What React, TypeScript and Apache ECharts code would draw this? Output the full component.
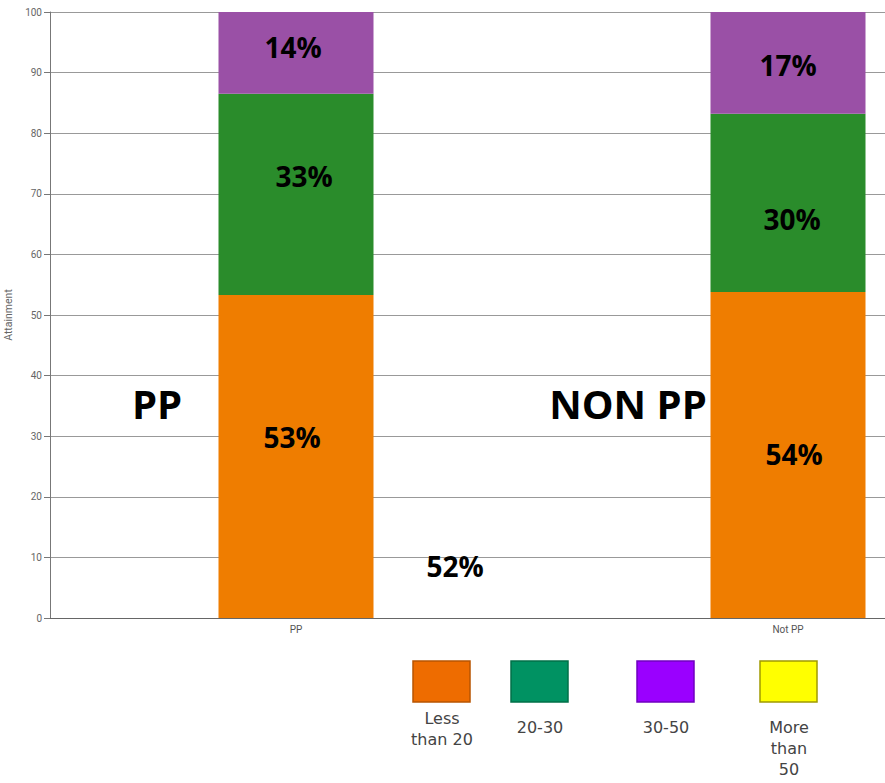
import { useEffect, useRef } from "react";
import * as echarts from "echarts";

const categories = ["PP", "Not PP"];
const seriesNames = ["Less than 20", "20-30", "30-50", "More than 50"];
const lessThan20 = [53.3, 53.8];
const from20to30 = [33.2, 29.4];
const from30to50 = [13.5, 16.8];
const moreThan50 = [0, 0];
const lessThan20Labels = ["53%", "54%"];
const from20to30Labels = ["33%", "30%"];
const from30to50Labels = ["14%", "17%"];
const annotationTexts = ["PP", "NON PP", "52%"];
const legendLabels = ["Less\nthan 20", "20-30", "30-50", "More\nthan\n50"];

// styles (not data)
const barColors = ["#EF7D00", "#2A8C2B", "#9A50A6", "#FFFF00"];
const legendColors = ["#EE6C00", "#009262", "#9A00FF", "#FFFF00"];
const legendBorders = ["#B85400", "#007048", "#7000C0", "#A09A00"];
const legendBoxX = [413, 511, 637, 760];
const legendTextTop = [708, 717, 717, 717];
const lessOffsets = [[-4, -20], [6, -1]];
const midOffsets = [[8, -18], [4, 16]];
const topOffsets = [[-3, -6], [0, 2]];
const annotationPos = [
  [157, 403, 40],
  [628, 403, 40],
  [455, 566, 28],
];

function items(values: number[], offsets: number[][]) {
  return values.map((v, i) => ({ value: v, label: { offset: offsets[i] } }));
}

export default function App() {
  const ref = useRef<HTMLDivElement>(null);
  useEffect(() => {
    if (!ref.current) return;
    const chart = echarts.init(ref.current, undefined, { renderer: "svg" });
    const labelStyle = (texts: string[]) => ({
      show: true,
      position: "inside" as const,
      formatter: (p: any) => texts[p.dataIndex],
      fontFamily: "Open Sans",
      fontWeight: "bold" as const,
      fontSize: 28,
      color: "#000",
    });
    const graphics: any[] = [];
    annotationTexts.forEach((t, i) => {
      const [x, y, fs] = annotationPos[i];
      graphics.push({
        type: "text",
        x,
        y,
        z: 100,
        style: {
          text: t,
          fontFamily: "Open Sans",
          fontWeight: "bold",
          fontSize: fs,
          fill: "#000",
          align: "center",
          verticalAlign: "middle",
        },
      });
    });
    legendLabels.forEach((t, i) => {
      graphics.push({
        type: "rect",
        shape: { x: legendBoxX[i], y: 661, width: 57, height: 41 },
        style: { fill: legendColors[i], stroke: legendBorders[i], lineWidth: 1.5 },
      });
      graphics.push({
        type: "text",
        x: legendBoxX[i] + 29,
        y: legendTextTop[i],
        style: {
          text: t,
          fontFamily: "DejaVu Sans",
          fontSize: 16,
          lineHeight: 21,
          fill: "#444",
          align: "center",
          verticalAlign: "top",
        },
      });
    });
    chart.setOption({
      animation: false,
      backgroundColor: "#fff",
      grid: { left: 50, top: 12, height: 606, width: 984, outerBoundsMode: "none", containLabel: false },
      xAxis: {
        type: "category",
        data: categories,
        axisLine: { lineStyle: { color: "#666" } },
        axisTick: { alignWithLabel: true, length: 4, lineStyle: { color: "#999" } },
        axisLabel: { fontSize: 10, color: "#555", margin: 6, fontFamily: "Roboto" },
      },
      yAxis: {
        type: "value",
        min: 0,
        max: 100,
        interval: 10,
        name: "Attainment",
        nameLocation: "middle",
        nameRotate: 90,
        nameGap: 25,
        nameTextStyle: { fontSize: 10.5, color: "#666", fontFamily: "Roboto" },
        axisLine: { show: true, lineStyle: { color: "#777" } },
        axisTick: { show: true, length: 6, lineStyle: { color: "#777" } },
        axisLabel: { fontSize: 10, color: "#666", margin: 8, fontFamily: "Roboto" },
        splitLine: { lineStyle: { color: "#999" } },
      },
      series: [
        {
          name: seriesNames[0],
          type: "bar",
          stack: "a",
          barWidth: 155,
          data: items(lessThan20, lessOffsets),
          itemStyle: { color: barColors[0] },
          label: labelStyle(lessThan20Labels),
        },
        {
          name: seriesNames[1],
          type: "bar",
          stack: "a",
          barWidth: 155,
          data: items(from20to30, midOffsets),
          itemStyle: { color: barColors[1] },
          label: labelStyle(from20to30Labels),
        },
        {
          name: seriesNames[2],
          type: "bar",
          stack: "a",
          barWidth: 155,
          data: items(from30to50, topOffsets),
          itemStyle: { color: barColors[2] },
          label: labelStyle(from30to50Labels),
        },
        {
          name: seriesNames[3],
          type: "bar",
          stack: "a",
          barWidth: 155,
          data: moreThan50,
          itemStyle: { color: barColors[3] },
        },
      ],
      graphic: graphics,
    });
    return () => chart.dispose();
  }, []);
  return (
    <div
      ref={ref}
      style={{ position: "absolute", left: 0, top: 0, width: 885, height: 783 }}
    />
  );
}
